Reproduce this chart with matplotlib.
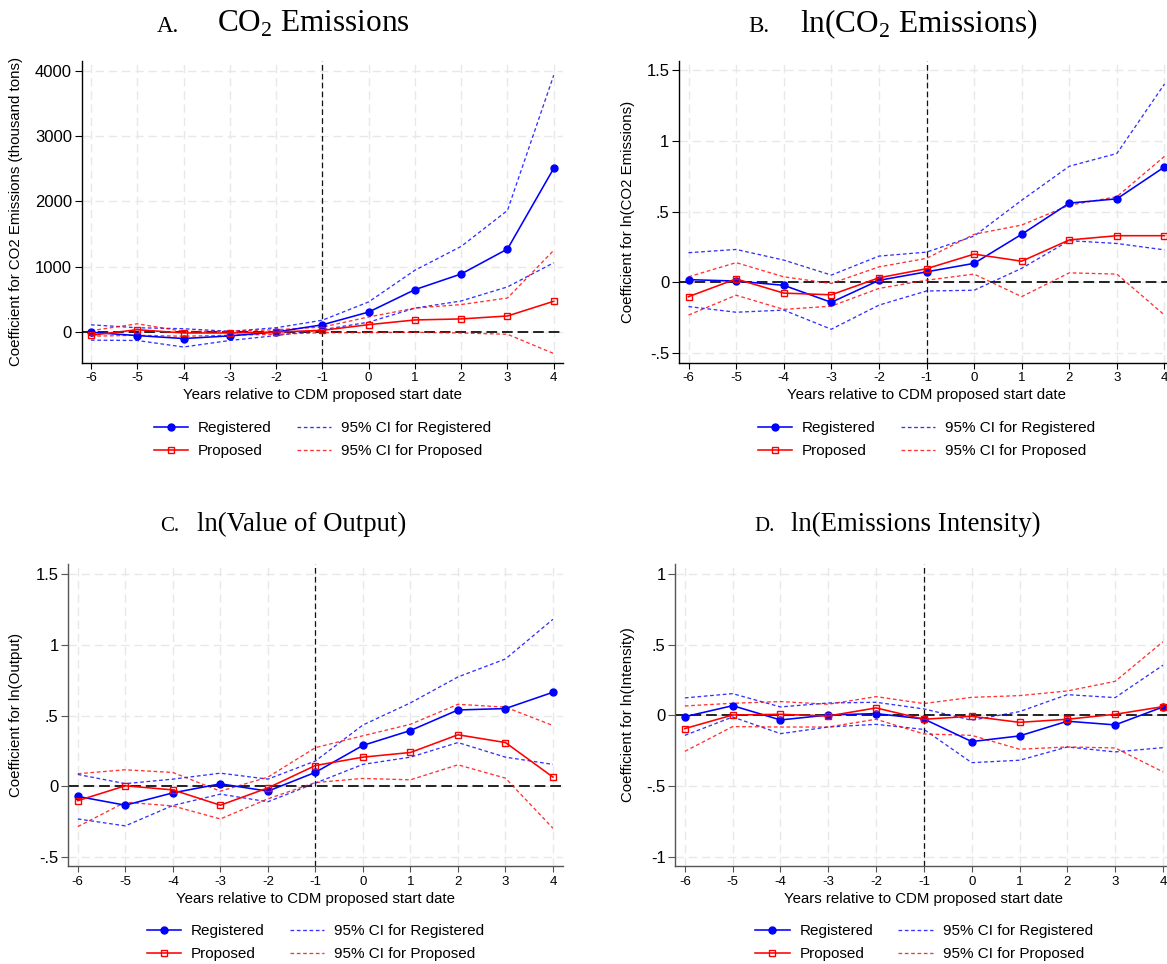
import matplotlib
matplotlib.use("Agg")
import matplotlib.pyplot as plt

plt.rcParams['font.family'] = ['Liberation Sans', 'DejaVu Sans']
plt.rcParams['mathtext.fontset'] = 'custom'
plt.rcParams['mathtext.rm'] = 'Liberation Serif'

# ---------------- data ----------------
years = [-6, -5, -4, -3, -2, -1, 0, 1, 2, 3, 4]
year_labels = ['-6', '-5', '-4', '-3', '-2', '-1', '0', '1', '2', '3', '4']

# A. CO2 emissions (thousand tons)
a_reg = [-5, -55, -100, -60, 0, 110, 305, 648, 888, 1270, 2505]
a_prop = [-50, 35, -15, -15, 0, 25, 112, 184, 200, 245, 470]
a_reg_hi = [110, 65, 50, 10, 65, 180, 460, 945, 1310, 1860, 3930]
a_reg_lo = [-125, -130, -230, -130, -55, 35, 150, 365, 475, 690, 1060]
a_prop_hi = [20, 125, 10, 10, 35, 75, 230, 365, 420, 520, 1250]
a_prop_lo = [-65, -50, -65, -50, -35, -10, -10, -5, -15, -35, -330]
a_yticks = [0, 1000, 2000, 3000, 4000]
a_ylabels = ['0', '1000', '2000', '3000', '4000']

# B. ln(CO2 emissions)
b_reg = [0.02, 0.01, -0.02, -0.14, 0.015, 0.075, 0.135, 0.34, 0.56, 0.59, 0.815]
b_prop = [-0.10, 0.025, -0.075, -0.087, 0.033, 0.097, 0.20, 0.15, 0.30, 0.33, 0.33]
b_reg_hi = [0.21, 0.233, 0.158, 0.052, 0.186, 0.214, 0.327, 0.58, 0.82, 0.91, 1.40]
b_reg_lo = [-0.17, -0.21, -0.195, -0.33, -0.16, -0.06, -0.055, 0.10, 0.295, 0.275, 0.23]
b_prop_hi = [0.04, 0.14, 0.04, -0.007, 0.11, 0.17, 0.34, 0.405, 0.545, 0.605, 0.89]
b_prop_lo = [-0.23, -0.09, -0.19, -0.167, -0.042, 0.016, 0.059, -0.10, 0.068, 0.059, -0.23]
b_yticks = [-0.5, 0, 0.5, 1, 1.5]
b_ylabels = ['-.5', '0', '.5', '1', '1.5']

# C. ln(Value of output)
c_reg = [-0.07, -0.132, -0.045, 0.019, -0.033, 0.10, 0.29, 0.395, 0.54, 0.55, 0.665]
c_prop = [-0.10, 0.005, -0.024, -0.132, -0.01, 0.148, 0.207, 0.24, 0.365, 0.31, 0.066]
c_reg_hi = [0.085, 0.02, 0.052, 0.094, 0.052, 0.18, 0.434, 0.59, 0.773, 0.90, 1.18]
c_reg_lo = [-0.229, -0.278, -0.134, -0.054, -0.108, 0.024, 0.156, 0.207, 0.31, 0.207, 0.156]
c_prop_hi = [0.09, 0.118, 0.099, -0.033, 0.066, 0.274, 0.358, 0.439, 0.58, 0.56, 0.43]
c_prop_lo = [-0.283, -0.111, -0.137, -0.229, -0.087, 0.028, 0.057, 0.047, 0.153, 0.059, -0.295]
c_yticks = [-0.5, 0, 0.5, 1, 1.5]
c_ylabels = ['-.5', '0', '.5', '1', '1.5']

# D. ln(Emissions intensity)
d_reg = [-0.01, 0.068, -0.033, 0.002, 0.012, -0.026, -0.186, -0.146, -0.042, -0.068, 0.059]
d_prop = [-0.094, 0.002, 0.007, -0.005, 0.052, -0.028, -0.007, -0.05, -0.028, 0.007, 0.061]
d_reg_hi = [0.123, 0.153, 0.059, 0.087, 0.092, 0.045, -0.035, 0.026, 0.146, 0.125, 0.354]
d_reg_lo = [-0.142, -0.012, -0.13, -0.083, -0.064, -0.10, -0.335, -0.318, -0.224, -0.259, -0.229]
d_prop_hi = [0.066, 0.085, 0.097, 0.078, 0.132, 0.083, 0.127, 0.139, 0.172, 0.24, 0.52]
d_prop_lo = [-0.255, -0.08, -0.083, -0.083, -0.028, -0.132, -0.142, -0.24, -0.224, -0.231, -0.40]
d_yticks = [-1, -0.5, 0, 0.5, 1]
d_ylabels = ['-1', '-.5', '0', '.5', '1']

ylabels = ['Coefficient for CO2 Emissions (thousand tons)',
           'Coefficient for ln(CO2 Emissions)',
           'Coefficient for ln(Output)',
           'Coefficient for ln(Intensity)']
panel_letters = ['A.', 'B.', 'C.', 'D.']
panel_titles = [r'CO$_\mathregular{2}$ Emissions', r'ln(CO$_\mathregular{2}$ Emissions)',
                'ln(Value of Output)', 'ln(Emissions Intensity)']
xlabel = 'Years relative to CDM proposed start date'
legend_labels = ['Registered', 'Proposed', '95% CI for Registered', '95% CI for Proposed']

# ---------------- layout ----------------
W, H = 1167, 964
fig = plt.figure(figsize=(W / 100, H / 100), dpi=100)

def add_ax(l, r, t, b):
    return fig.add_axes([l / W, 1 - b / H, (r - l) / W, (b - t) / H])

panels = [
    dict(box=(81.7, 563, 60.5, 362.7), ylim=(-470, 4155), yt=a_yticks, yl=a_ylabels,
         series=(a_reg, a_prop, a_reg_hi, a_reg_lo, a_prop_hi, a_prop_lo),
         ylab_x=-0.122, spine='black', title_pos=(157, 217, 32), tsize=(16.5, 22.5)),
    dict(box=(679, 1174, 60.5, 362.7), ylim=(-0.566, 1.566), yt=b_yticks, yl=b_ylabels,
         series=(b_reg, b_prop, b_reg_hi, b_reg_lo, b_prop_hi, b_prop_lo),
         ylab_x=-0.089, spine='black', title_pos=(748, 800, 32), tsize=(16.5, 22.5)),
    dict(box=(68.3, 562.5, 564, 866), ylim=(-0.561, 1.57), yt=c_yticks, yl=c_ylabels,
         series=(c_reg, c_prop, c_reg_hi, c_reg_lo, c_prop_hi, c_prop_lo),
         ylab_x=-0.092, spine='#555555', title_pos=(160, 197, 531), tsize=(15, 19.3)),
    dict(box=(675.3, 1172.5, 564, 866), ylim=(-1.066, 1.07), yt=d_yticks, yl=d_ylabels,
         series=(d_reg, d_prop, d_reg_hi, d_reg_lo, d_prop_hi, d_prop_lo),
         ylab_x=-0.081, spine='#555555', title_pos=(754, 791, 531), tsize=(15, 19.3)),
]

BLUE = '#0000ff'
RED = '#ff0000'

for i, p in enumerate(panels):
    ax = add_ax(*p['box'])
    reg, prop, rhi, rlo, phi, plo = p['series']
    ax.set_xlim(-6.2, 4.2)
    ax.set_ylim(*p['ylim'])
    ax.set_axisbelow(True)
    ax.grid(True, color='#e8e8e8', lw=1.0, ls=(0, (6, 3.5)))

    ax.axhline(0, color='#222222', lw=1.4, ls=(0, (5.5, 2.5)), zorder=2)
    ax.axvline(-1, color='#111111', lw=0.9, ls=(0, (4.5, 2.6)), zorder=2)

    h1, = ax.plot(years, reg, color=BLUE, lw=1.15, marker='o', ms=5,
                  mfc=BLUE, mec=BLUE, zorder=4)
    h2, = ax.plot(years, prop, color=RED, lw=1.15, marker='s', ms=4.5,
                  mfc='none', mec=RED, mew=1.0, zorder=4)
    h3, = ax.plot(years, rhi, color=BLUE, lw=0.95, ls=(0, (2.8, 2.0)), alpha=0.8, zorder=3)
    ax.plot(years, rlo, color=BLUE, lw=0.95, ls=(0, (2.8, 2.0)), alpha=0.8, zorder=3)
    h4, = ax.plot(years, phi, color=RED, lw=0.95, ls=(0, (2.8, 2.0)), alpha=0.8, zorder=3)
    ax.plot(years, plo, color=RED, lw=0.95, ls=(0, (2.8, 2.0)), alpha=0.8, zorder=3)

    for s in ('top', 'right'):
        ax.spines[s].set_visible(False)
    for s in ('left', 'bottom'):
        ax.spines[s].set_color(p['spine'])
        ax.spines[s].set_linewidth(1.0)

    ax.set_xticks(years)
    ax.set_xticklabels(year_labels)
    ax.set_yticks(p['yt'])
    ax.set_yticklabels(p['yl'])
    ax.tick_params(axis='x', direction='out', length=4, width=0.8, pad=3,
                   labelsize=9.5, color=p['spine'])
    ax.tick_params(axis='y', direction='out', length=5, width=0.8, pad=2,
                   labelsize=12, color=p['spine'])

    ax.set_ylabel(ylabels[i], fontsize=10.8)
    ax.yaxis.set_label_coords(p['ylab_x'], 0.5)
    ax.set_xlabel(xlabel, fontsize=10.8)
    ax.xaxis.set_label_coords(0.5, -0.085)

    ax.legend([h1, h2, h3, h4], legend_labels, ncol=2, frameon=False,
              loc='upper center', bbox_to_anchor=(0.5, -0.193),
              fontsize=11, handlelength=2.25, handletextpad=0.65,
              columnspacing=1.64, labelspacing=0.58, borderpad=0,
              borderaxespad=0)

    lx, tx, by = p['title_pos']
    fs_letter, fs_title = p['tsize']
    fig.text(lx / W, 1 - by / H, panel_letters[i], family='Liberation Serif',
             fontsize=fs_letter, va='baseline', ha='left')
    fig.text(tx / W, 1 - by / H, panel_titles[i], family='Liberation Serif',
             fontsize=fs_title, va='baseline', ha='left')

fig.savefig('out.png', dpi=100)
